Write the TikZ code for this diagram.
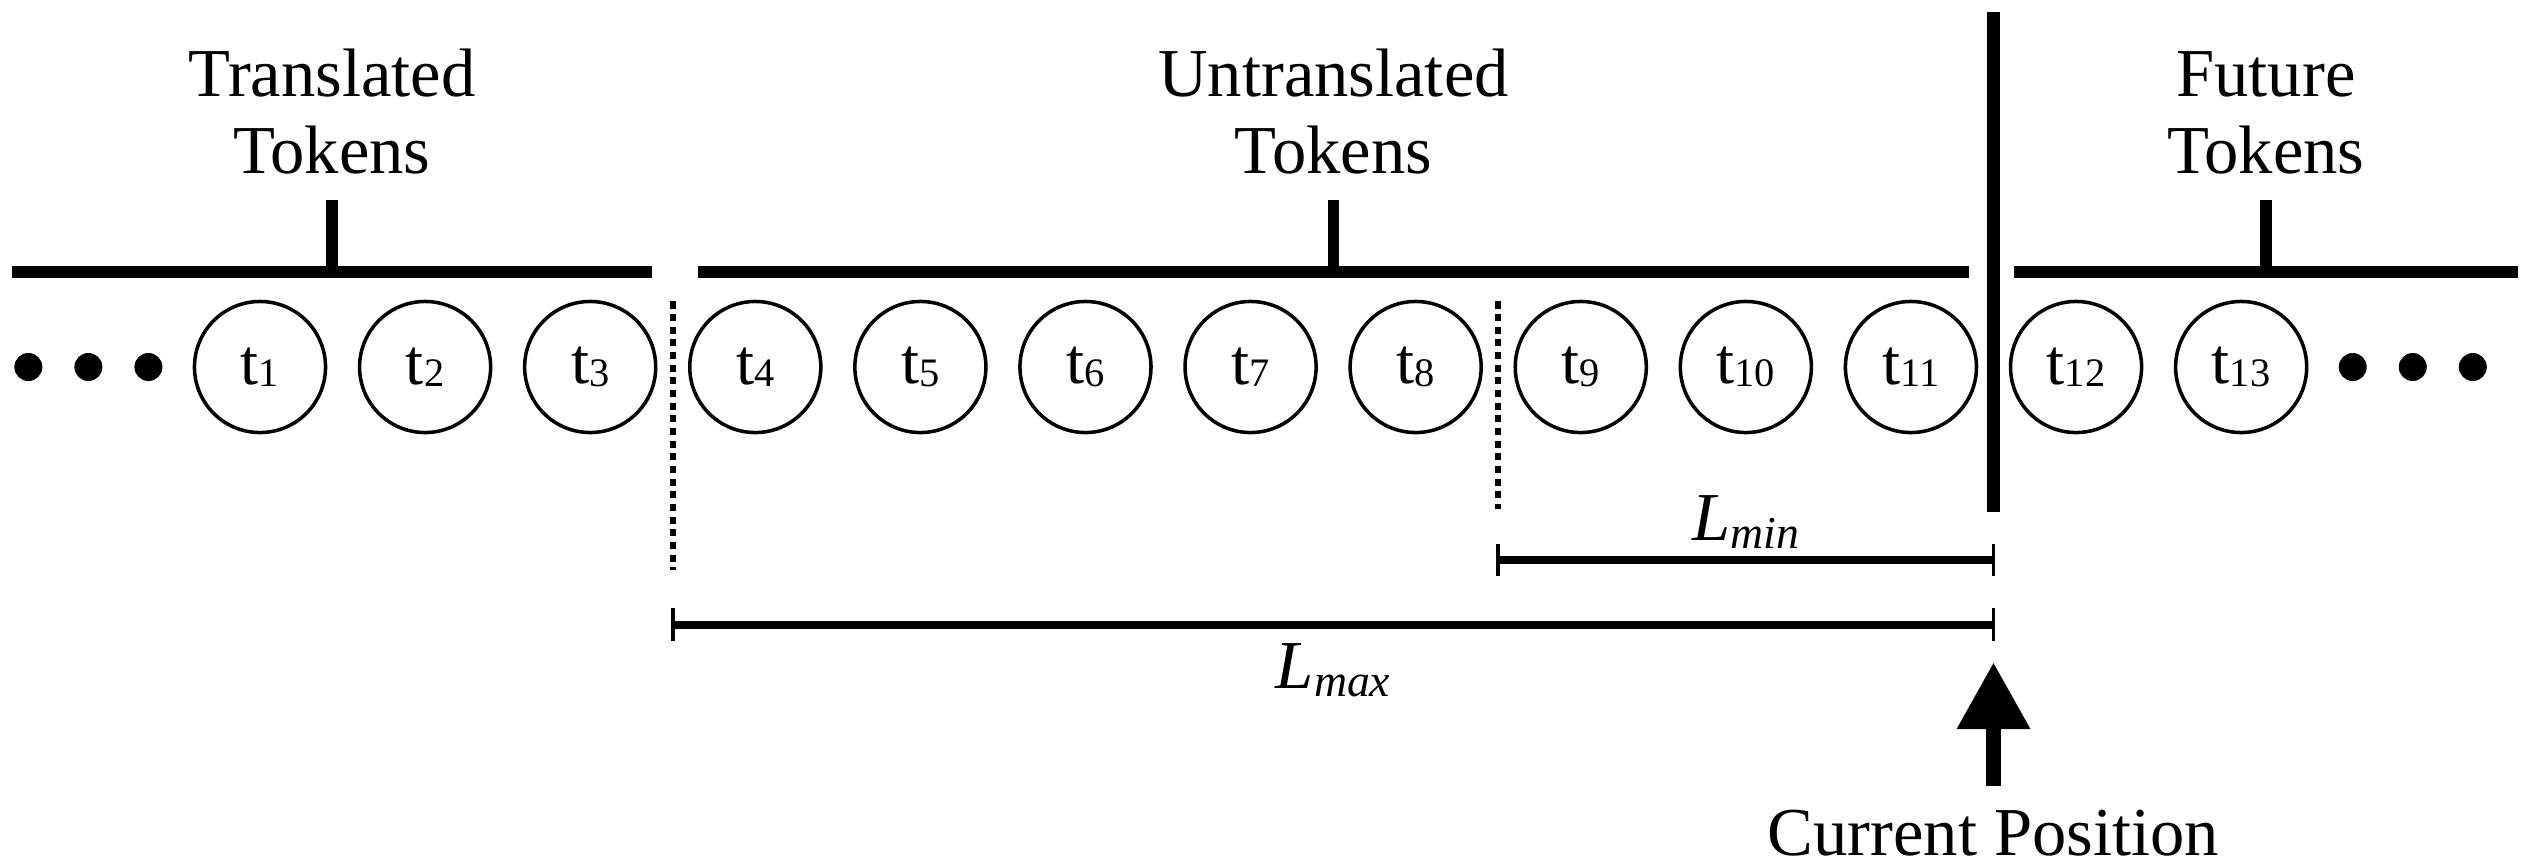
\documentclass[tikz,border=0pt]{standalone}
\usepackage{fontspec}
\setmainfont{Liberation Serif}
\usetikzlibrary{positioning,calc,arrows.meta}

\newcommand{\tk}[1]{t\raisebox{-0.7pt}{\fontsize{11.5}{11.5}\selectfont #1}}
\newcommand{\Lsub}[1]{\textit{L}\raisebox{-2.5pt}{\fontsize{13}{13}\selectfont\itshape #1}}

\begin{document}
\begin{tikzpicture}[x=0.01cm,y=-0.01cm,
  tok/.style={draw,circle,line width=1pt,minimum size=1.31cm,inner sep=0pt,outer sep=0pt,font=\fontsize{18.5}{18.5}\selectfont},
  blob/.style={fill,circle,minimum size=0.28cm,inner sep=0pt,outer sep=0pt},
  bar/.style={line width=3.4pt},
  cut/.style={line width=1.7pt,dash pattern=on 2pt off 1.6pt},
  span/.style={line width=2pt},
  endtick/.style={line width=1pt},
  lbl/.style={font=\fontsize{19.5}{22}\selectfont,align=center,inner sep=0pt}]
  \useasboundingbox (0,0) rectangle (2539,866);
  % tokens
  \node[tok] (t1) at (260,367) {\tk{1}};
  \foreach \i [count=\j from 2] in {1,...,12}
    \node[tok,right=0.34cm of t\i] (t\j) {\tk{\j}};
  \node[blob,left=0.32cm of t1] (dl3) {};
  \node[blob,left=0.32cm of dl3] (dl2) {};
  \node[blob,left=0.32cm of dl2] (dl1) {};
  \node[blob,right=0.32cm of t13] (dr1) {};
  \node[blob,right=0.32cm of dr1] (dr2) {};
  \node[blob,right=0.32cm of dr2] (dr3) {};
  % groups
  \coordinate (g1a) at (12,272); \coordinate (g1b) at (652,272);
  \coordinate (g2a) at (698,272); \coordinate (g2b) at (1969,272);
  \coordinate (g3a) at (2014,272); \coordinate (g3b) at (2518,272);
  \draw[bar] (g1a) -- (g1b) ($(g1a)!0.5!(g1b)$) -- ++(0,-72) coordinate (k1);
  \draw[bar] (g2a) -- (g2b) ($(g2a)!0.5!(g2b)$) -- ++(0,-72) coordinate (k2);
  \draw[bar] (g3a) -- (g3b) ($(g3a)!0.5!(g3b)$) -- ++(0,-72) coordinate (k3);
  \node[lbl,above=0.25cm of k1] (n1) {Translated\\Tokens};
  \node[lbl,above=0.25cm of k2] (n2) {Untranslated\\Tokens};
  \node[lbl,above=0.25cm of k3] (n3) {Future\\Tokens};
  % cuts
  \coordinate (c1) at ($(t3.east)!0.5!(t4.west)$);
  \coordinate (c2) at ($(t8.east)!0.5!(t9.west)$);
  \coordinate (c3) at ($(t11.east)!0.5!(t12.west)$);
  \draw[cut] (c1 |- t3.north) -- ++(0,269) coordinate (c1e);
  \draw[cut] (c2 |- t8.north) -- ++(0,208) coordinate (c2e);
  \draw[line width=3.7pt] (c3) ++(0,145) -- ++(0,-500);
  % window lengths
  \coordinate (mina) at (c2 |- 0,560); \coordinate (minb) at (c3 |- 0,560);
  \coordinate (maxa) at (c1 |- 0,625); \coordinate (maxb) at (c3 |- 0,625);
  \draw[span] (mina) -- (minb);
  \draw[endtick] (mina) ++(0,16) -- ++(0,-32) (minb) ++(0,16) -- ++(0,-32);
  \draw[span] (maxa) -- (maxb);
  \draw[endtick] (maxa) ++(0,16) -- ++(0,-33) (maxb) ++(0,16) -- ++(0,-33);
  \node[lbl,anchor=base] (lmin) at ($(mina)!0.5!(minb)+(0,-20)$) {\Lsub{min}};
  \node[lbl,anchor=base] (lmax) at ($(maxa)!0.5!(maxb)+(0,63)$) {\Lsub{max}};
  % current position
  \coordinate (tip) at (c3 |- 0,662);
  \draw[line width=4.5pt,-{Triangle[length=0.67cm,width=0.69cm]}] (c3 |- 0,786) -- (tip);
  \node[lbl,anchor=base] (cur) at (c3 |- 0,855) {Current Position};
\end{tikzpicture}
\end{document}
